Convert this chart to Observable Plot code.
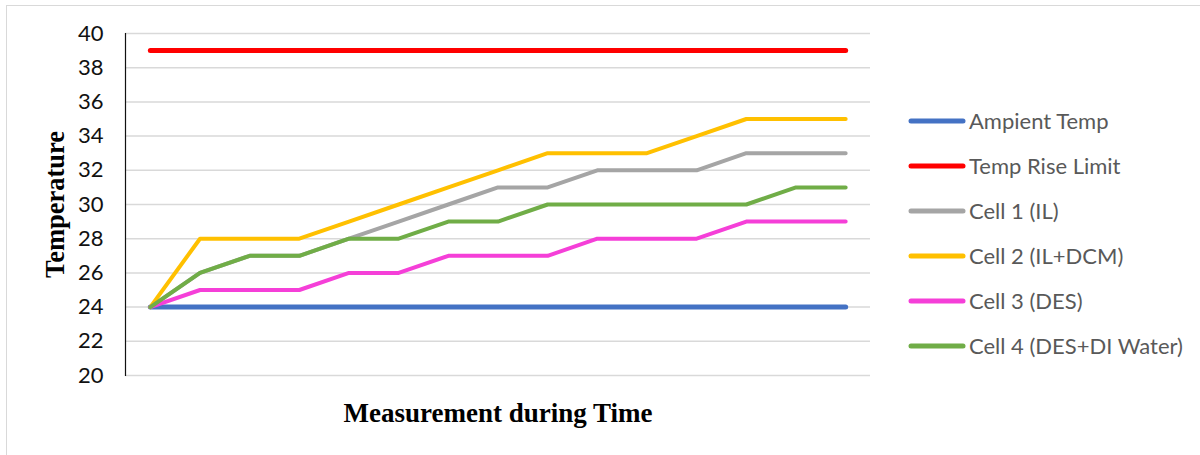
<!DOCTYPE html>
<html>
<head>
<meta charset="utf-8">
<script src="https://cdn.jsdelivr.net/npm/d3@7"></script>
<script src="https://cdn.jsdelivr.net/npm/@observablehq/plot@0.6"></script>
<style>
  html, body { margin: 0; padding: 0; background: #fff; }
  #wrap { position: relative; width: 1200px; height: 455px; overflow: hidden; }
  #frame { position: absolute; left: 6px; top: 5px; width: 1300px; height: 600px;
           border-top: 1.5px solid #d9d9d9; border-left: 1.5px solid #d9d9d9; pointer-events: none; }
  #legend { position: absolute; left: 908px; top: 98px; font-family: Lato, "Open Sans", sans-serif;
            font-size: 22px; color: #595959; }
  .row { display: flex; align-items: center; height: 45px; }
  .row svg { margin-right: 3px; }
</style>
</head>
<body>
<div id="wrap"><div id="frame"></div><div id="legend"></div></div>
<script>
// Measurement steps (unlabelled on the category axis)
const steps = [1, 2, 3, 4, 5, 6, 7, 8, 9, 10, 11, 12, 13, 14, 15];

// Temperatures per series
const ambientTemp = [24, 24, 24, 24, 24, 24, 24, 24, 24, 24, 24, 24, 24, 24, 24];
const riseLimit   = [39, 39, 39, 39, 39, 39, 39, 39, 39, 39, 39, 39, 39, 39, 39];
const cell1 = [24, 26, 27, 27, 28, 29, 30, 31, 31, 32, 32, 32, 33, 33, 33];
const cell2 = [24, 28, 28, 28, 29, 30, 31, 32, 33, 33, 33, 34, 35, 35, 35];
const cell3 = [24, 25, 25, 25, 26, 26, 27, 27, 27, 28, 28, 28, 29, 29, 29];
const cell4 = [24, 26, 27, 27, 28, 28, 29, 29, 30, 30, 30, 30, 30, 31, 31];

const seriesNames = ["Ampient Temp", "Temp Rise Limit", "Cell 1 (IL)", "Cell 2 (IL+DCM)", "Cell 3 (DES)", "Cell 4 (DES+DI Water)"];
const seriesValues = [ambientTemp, riseLimit, cell1, cell2, cell3, cell4];
const seriesColors = ["#4472C4", "#FF0000", "#A5A5A5", "#FFC000", "#F53FD8", "#70AD47"];
const seriesWidths = [5, 5, 4, 4, 4, 4];

const yTicks = [20, 22, 24, 26, 28, 30, 32, 34, 36, 38, 40];

const lineMarks = seriesNames.map((name, i) =>
  Plot.lineY(steps.map((s, j) => ({step: s, temp: seriesValues[i][j]})), {
    x: "step", y: "temp",
    stroke: seriesColors[i], strokeWidth: seriesWidths[i],
    strokeLinecap: "round", strokeLinejoin: "round"
  })
);

const titleFont = "'Liberation Serif', 'Times New Roman', serif";

const chart = Plot.plot({
  width: 1200,
  height: 455,
  marginLeft: 125,
  marginRight: 330,
  marginTop: 33,
  marginBottom: 80,
  style: {fontFamily: "Lato, 'Open Sans', sans-serif", fontSize: "22px", color: "#111", background: "transparent"},
  x: {type: "point", domain: steps, padding: 0.5, round: false, axis: null},
  y: {domain: [20, 40]},
  marks: [
    Plot.gridY(yTicks, {stroke: "#d9d9d9", strokeOpacity: 1, strokeWidth: 1.5}),
    Plot.frame({anchor: "left", stroke: "#111", strokeWidth: 1.2}),
    Plot.axisY(yTicks, {tickSize: 0, tickPadding: 22, label: null, fontSize: 22}),
    ...lineMarks,
    Plot.text(["Temperature"], {
      text: d => d, frameAnchor: "left", textAnchor: "middle", lineAnchor: "middle",
      rotate: -90, dx: -70,
      fontFamily: titleFont, fontWeight: "bold", fontSize: 26.5, fill: "#000"
    }),
    Plot.text(["Measurement during Time"], {
      text: d => d, frameAnchor: "bottom", textAnchor: "middle", lineAnchor: "middle", dy: 37.5,
      fontFamily: titleFont, fontWeight: "bold", fontSize: 27, fill: "#000"
    })
  ]
});
document.getElementById("wrap").prepend(chart);

// Legend
const legend = d3.select("#legend");
seriesNames.forEach((name, i) => {
  const row = legend.append("div").attr("class", "row");
  const sw = row.append("svg").attr("width", 58).attr("height", 10);
  sw.append("line").attr("x1", 3).attr("x2", 55).attr("y1", 5).attr("y2", 5)
    .attr("stroke", seriesColors[i]).attr("stroke-width", 5).attr("stroke-linecap", "round");
  row.append("span").text(name);
});
</script>
</body>
</html>
